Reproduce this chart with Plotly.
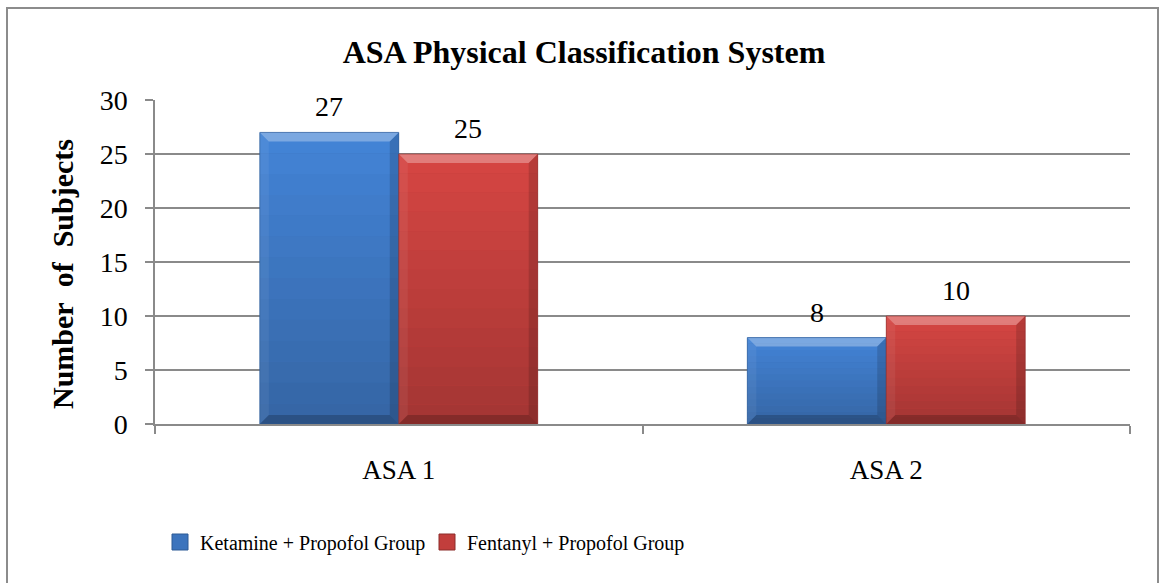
import plotly.graph_objects as go

# ---- data ----
categories = ["ASA 1", "ASA 2"]
series_names = ["Ketamine + Propofol Group", "Fentanyl + Propofol Group"]
ketamine = [27, 8]
fentanyl = [25, 10]
y_ticks = [0, 5, 10, 15, 20, 25, 30]

# ---- styling ----
SERIF = "Liberation Serif, Times New Roman, serif"
W, H = 1160, 583
ML, MR, MT, MB = 155, 30, 100, 159
PW, PH = W - ML - MR, H - MT - MB
Y_MAX = 30
BARGAP = 0.43
BAR_W = (1 - BARGAP) / 2

fill = ["#3c74bd", "#c23e3c"]
grad_top = [(0x43, 0x84, 0xd7), (0xd6, 0x46, 0x43)]
grad_bot = [(0x35, 0x65, 0xa4), (0xa3, 0x35, 0x33)]
edge = ["#2d5a95", "#8c2c2a"]
GRID = "#8a8a8a"


def mix(a, b, t):
    return "rgb({},{},{})".format(*[round(a[k] + (b[k] - a[k]) * t) for k in range(3)])


fig = go.Figure()

all_series = [ketamine, fentanyl]
for i, (name, vals) in enumerate(zip(series_names, all_series)):
    fig.add_trace(go.Bar(
        x=categories, y=vals, name=name, marker=dict(color=fill[i], line=dict(width=0)),
        showlegend=False, hoverinfo="x+y+name",
    ))
    # legend entry
    fig.add_trace(go.Scatter(
        x=[None], y=[None], mode="markers", name=name,
        marker=dict(symbol="square", size=16, color=fill[i],
                    line=dict(color=edge[i], width=1)),
        showlegend=True,
    ))

# shading and bevel edges on each bar, on an overlaid linear axis
bx = 9 / (PW / 2.0)
by = 9 / (PH / Y_MAX)
N_BANDS = 14
shapes = []
annotations = []


def path(pts):
    return "M " + " L ".join(f"{a},{b}" for a, b in pts) + " Z"


for i, vals in enumerate(all_series):
    for c, v in enumerate(vals):
        x0 = c - BAR_W + i * BAR_W
        x1 = x0 + BAR_W
        # vertical gradient bands (top colour -> bottom colour)
        for k in range(N_BANDS):
            yt = v * (1 - k / N_BANDS)
            yb = v * (1 - (k + 1) / N_BANDS)
            shapes.append(dict(type="rect", xref="x2", yref="y", x0=x0, x1=x1,
                               y0=yb, y1=yt, line=dict(width=0), layer="above",
                               fillcolor=mix(grad_top[i], grad_bot[i], (k + 0.5) / N_BANDS)))
        faces = [
            ("rgba(255,255,255,0.30)", [(x0, v), (x1, v), (x1 - bx, v - by), (x0 + bx, v - by)]),
            ("rgba(0,0,0,0.20)", [(x0, 0), (x1, 0), (x1 - bx, by), (x0 + bx, by)]),
            ("rgba(255,255,255,0.06)", [(x0, 0), (x0, v), (x0 + bx, v - by), (x0 + bx, by)]),
            ("rgba(0,0,0,0.14)", [(x1, 0), (x1, v), (x1 - bx, v - by), (x1 - bx, by)]),
        ]
        for col, pts in faces:
            shapes.append(dict(type="path", path=path(pts), xref="x2", yref="y",
                               fillcolor=col, line=dict(width=0), layer="above"))
        shapes.append(dict(type="rect", xref="x2", yref="y", x0=x0, x1=x1, y0=0, y1=v,
                           line=dict(color=edge[i], width=1), layer="above",
                           fillcolor="rgba(0,0,0,0)", opacity=0.6))
        annotations.append(dict(
            x=(x0 + x1) / 2, y=v, xref="x2", yref="y", text=str(v),
            showarrow=False, yanchor="bottom", yshift=8,
            font=dict(family=SERIF, size=28, color="black"),
        ))

# outer chart border
shapes.append(dict(
    type="rect", xref="paper", yref="paper",
    x0=(7 - ML) / PW, x1=(1158 - ML) / PW,
    y0=(PH - (595 - MT)) / PH, y1=(PH - (8 - MT)) / PH,
    line=dict(color="#8c8c8c", width=2), fillcolor="rgba(0,0,0,0)", layer="below",
))

# y axis title
annotations.append(dict(
    x=(62 - ML) / PW, y=(PH - (274 - MT)) / PH, xref="paper", yref="paper",
    xanchor="center", yanchor="middle",
    text="<b>Number\u00a0 of\u00a0 Subjects</b>", textangle=-90, showarrow=False,
    font=dict(family=SERIF, size=30, color="black"),
))

fig.update_layout(
    width=W, height=H,
    margin=dict(l=ML, r=MR, t=MT, b=MB),
    paper_bgcolor="white", plot_bgcolor="white",
    barmode="group", bargap=BARGAP, bargroupgap=0,
    title=dict(text="<b>ASA Physical Classification System</b>",
               x=584 / W, xref="container", xanchor="center",
               y=1 - 52 / H, yref="container", yanchor="middle",
               font=dict(family=SERIF, size=32, color="black")),
    xaxis=dict(type="category", range=[-0.5, 1.5], showgrid=False,
               showline=True, linecolor=GRID, linewidth=1.5,
               ticks="outside", tickson="boundaries", ticklen=8, tickcolor=GRID,
               tickwidth=1.5, ticklabelstandoff=21,
               tickfont=dict(family=SERIF, size=27, color="black")),
    xaxis2=dict(overlaying="x", range=[-0.5, 1.5], visible=False),
    yaxis=dict(range=[0, Y_MAX], tickvals=y_ticks, showgrid=True, gridcolor=GRID,
               gridwidth=1.5, showline=True, linecolor=GRID, linewidth=1.5,
               ticks="outside", ticklen=8, tickcolor=GRID, tickwidth=1.5,
               ticklabelstandoff=12, zeroline=False,
               tickfont=dict(family=SERIF, size=28, color="black")),
    legend=dict(orientation="h", x=(160 - ML) / PW, xanchor="left",
                y=(PH - (542 - MT)) / PH, yanchor="middle",
                entrywidth=222, entrywidthmode="pixels",
                font=dict(family=SERIF, size=20, color="black"),
                bgcolor="rgba(0,0,0,0)", itemsizing="trace"),
    shapes=shapes, annotations=annotations,
)

fig.write_html("out.html")
